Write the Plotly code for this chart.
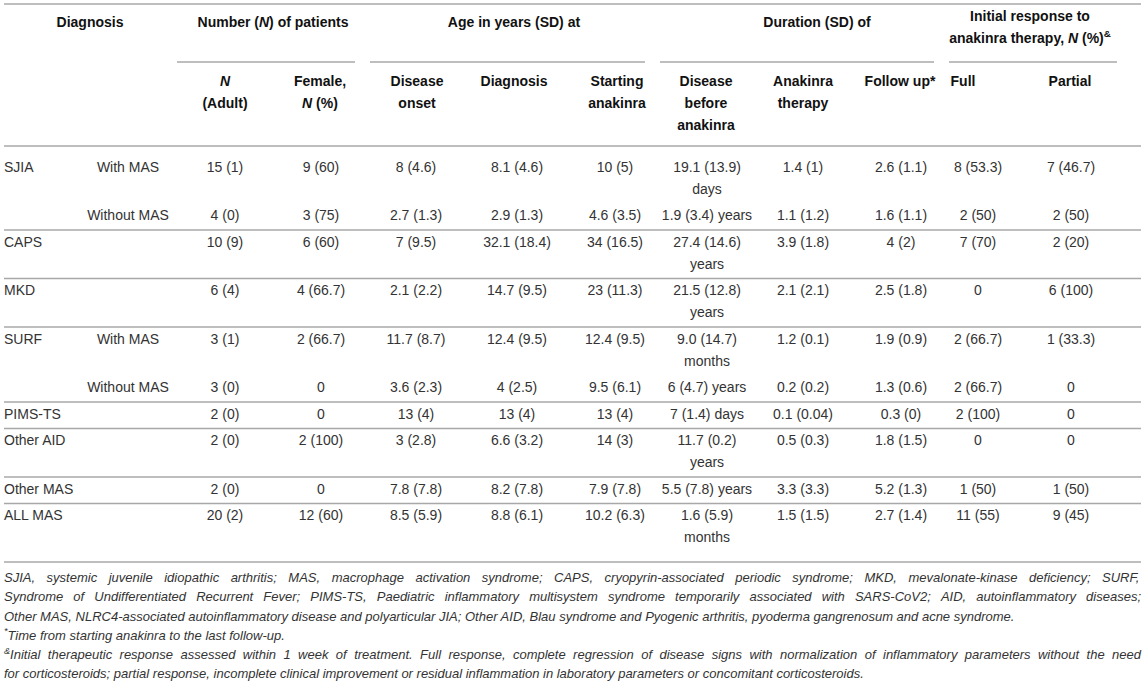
import re
import plotly.graph_objects as go

# ---- table contents ----
diagnosis = ["SJIA", "", "CAPS", "MKD", "SURF", "", "PIMS-TS", "Other AID", "Other MAS", "ALL MAS"]
subgroup = ["With MAS", "Without MAS", "", "", "With MAS", "Without MAS", "", "", "", ""]
n_adult = ["15 (1)", "4 (0)", "10 (9)", "6 (4)", "3 (1)", "3 (0)", "2 (0)", "2 (0)", "2 (0)", "20 (2)"]
female = ["9 (60)", "3 (75)", "6 (60)", "4 (66.7)", "2 (66.7)", "0", "0", "2 (100)", "0", "12 (60)"]
age_onset = ["8 (4.6)", "2.7 (1.3)", "7 (9.5)", "2.1 (2.2)", "11.7 (8.7)", "3.6 (2.3)", "13 (4)", "3 (2.8)", "7.8 (7.8)", "8.5 (5.9)"]
age_diagnosis = ["8.1 (4.6)", "2.9 (1.3)", "32.1 (18.4)", "14.7 (9.5)", "12.4 (9.5)", "4 (2.5)", "13 (4)", "6.6 (3.2)", "8.2 (7.8)", "8.8 (6.1)"]
age_anakinra = ["10 (5)", "4.6 (3.5)", "34 (16.5)", "23 (11.3)", "12.4 (9.5)", "9.5 (6.1)", "13 (4)", "14 (3)", "7.9 (7.8)", "10.2 (6.3)"]
dur_disease = ["19.1 (13.9)<br>days", "1.9 (3.4) years", "27.4 (14.6)<br>years", "21.5 (12.8)<br>years",
               "9.0 (14.7)<br>months", "6 (4.7) years", "7 (1.4) days", "11.7 (0.2)<br>years",
               "5.5 (7.8) years", "1.6 (5.9)<br>months"]
dur_anakinra = ["1.4 (1)", "1.1 (1.2)", "3.9 (1.8)", "2.1 (2.1)", "1.2 (0.1)", "0.2 (0.2)", "0.1 (0.04)", "0.5 (0.3)", "3.3 (3.3)", "1.5 (1.5)"]
dur_follow = ["2.6 (1.1)", "1.6 (1.1)", "4 (2)", "2.5 (1.8)", "1.9 (0.9)", "1.3 (0.6)", "0.3 (0)", "1.8 (1.5)", "5.2 (1.3)", "2.7 (1.4)"]
resp_full = ["8 (53.3)", "2 (50)", "7 (70)", "0", "2 (66.7)", "2 (66.7)", "2 (100)", "0", "1 (50)", "11 (55)"]
resp_partial = ["7 (46.7)", "2 (50)", "2 (20)", "6 (100)", "1 (33.3)", "0", "0", "0", "1 (50)", "9 (45)"]

group_titles = ["Number (<i>N</i>) of patients", "Age in years (SD) at", "Duration (SD) of",
                "Initial response to<br>anakinra therapy, <i>N</i> (%)<sup>&</sup>"]
sub_headers = ["<i>N</i><br>(Adult)", "Female,<br><i>N</i> (%)", "Disease<br>onset", "Diagnosis",
               "Starting<br>anakinra", "Disease<br>before<br>anakinra", "Anakinra<br>therapy",
               "Follow up*", "Full", "Partial"]

footnotes = [
    "SJIA, systemic juvenile idiopathic arthritis; MAS, macrophage activation syndrome; CAPS, cryopyrin-associated periodic syndrome; MKD, mevalonate-kinase deficiency; SURF,",
    "Syndrome of Undifferentiated Recurrent Fever; PIMS-TS, Paediatric inflammatory multisystem syndrome temporarily associated with SARS-CoV2; AID, autoinflammatory diseases;",
    "Other MAS, NLRC4-associated autoinflammatory disease and polyarticular JIA; Other AID, Blau syndrome and Pyogenic arthritis, pyoderma gangrenosum and acne syndrome.",
    "<sup>*</sup>Time from starting anakinra to the last follow-up.",
    "<sup>&</sup>Initial therapeutic response assessed within 1 week of treatment. Full response, complete regression of disease signs with normalization of inflammatory parameters without the need",
    "for corticosteroids; partial response, incomplete clinical improvement or residual inflammation in laboratory parameters or concomitant corticosteroids.",
]
justify = [True, True, False, False, True, False]

value_cols = [n_adult, female, age_onset, age_diagnosis, age_anakinra,
              dur_disease, dur_anakinra, dur_follow, resp_full, resp_partial]

# ---- layout constants (pixels) ----
W, H = 1145, 691
LEFT, RIGHT = 4, 1141
col_x = [225, 321, 416, 517, 615, 707, 803, 901, 978, 1071]
sub_x = [225, 320, 417, 514, 617, 706, 803, 900, 963, 1070]
group_x = [273, 514, 817, 1030]
group_spans = [(177, 355), (370, 645), (660, 934), (949, 1117)]
LH = 22          # line height
PAD = 2.25       # cell padding top/bottom
GAP = 9          # extra space after header rule and before bottom rule
FOOT_SIZE = 13
rule_color = "#a8a8a8"
body_color = "#333333"
head_color = "#111111"
FONT = "Liberation Sans, Arial, Helvetica, sans-serif"

# Arial / Liberation Sans advance widths (1/1000 em), used to justify footnotes
_w = {" ": 278, ",": 278, ".": 278, ";": 278, ":": 278, "-": 333, "(": 333, ")": 333,
      "*": 389, "&": 667, "%": 889}
_w.update({c: 556 for c in "0123456789"})
_w.update(dict(zip("ABCDEFGHIJKLMNOPQRSTUVWXYZ",
                   [667, 667, 722, 722, 667, 611, 778, 722, 278, 500, 667, 556, 833,
                    722, 778, 667, 778, 722, 667, 611, 722, 667, 944, 667, 667, 611])))
_w.update(dict(zip("abcdefghijklmnopqrstuvwxyz",
                   [556, 556, 500, 556, 556, 278, 556, 556, 222, 222, 500, 222, 833,
                    556, 556, 556, 556, 333, 500, 278, 556, 500, 722, 500, 500, 500])))


def text_width(s, size):
    sup = "".join(re.findall(r"<sup>(.*?)</sup>", s))
    plain = re.sub(r"<sup>.*?</sup>", "", s)
    units = sum(_w.get(c, 556) for c in plain) + 0.7 * sum(_w.get(c, 556) for c in sup)
    return units * size / 1000


cells = {"body_c": [], "body_l": [], "head_c": [], "foot_l": []}


def add(kind, x, y0, text):
    for k, line in enumerate(text.split("<br>")):
        cells[kind].append((x, y0 + k * LH, line))


# header
add("head_c", 90, 23, "Diagnosis")
for gx, t in zip(group_x, group_titles):
    add("head_c", gx, 17 if "<br>" in t else 23, t)
for sx, t in zip(sub_x, sub_headers):
    add("head_c", sx, 82, t)

shapes = []


def hline(y, x0=LEFT, x1=RIGHT):
    shapes.append(dict(type="line", xref="x", yref="y", x0=x0, x1=x1, y0=y, y1=y,
                       line=dict(color=rule_color, width=1.6)))


hline(4)
for a, b in group_spans:
    hline(62, a, b)
hline(146)

# body rows
y = 146 + GAP
for i in range(len(diagnosis)):
    if diagnosis[i] and i > 0:
        hline(y)
    row = [c[i] for c in value_cols]
    nlines = max(t.count("<br>") + 1 for t in row)
    ty = y + PAD + LH / 2
    if diagnosis[i]:
        add("body_l", LEFT, ty, diagnosis[i])
    if subgroup[i]:
        add("body_c", 128, ty, subgroup[i])
    for cx, t in zip(col_x, row):
        add("body_c", cx, ty, t)
    y += nlines * LH + 2 * PAD
hline(y + GAP + 1)

# footnotes (justified lines are laid out word by word)
for k, t in enumerate(footnotes):
    fy = 579 + k * 19.2
    if not justify[k]:
        cells["foot_l"].append((LEFT, fy, t))
        continue
    words = t.split(" ")
    widths = [text_width(wd, FOOT_SIZE) for wd in words]
    gap = (RIGHT - LEFT - sum(widths)) / (len(words) - 1)
    x = LEFT
    for wd, ww in zip(words, widths):
        cells["foot_l"].append((x, fy, wd))
        x += ww + gap

styles = {
    "body_c": dict(pos="middle center", color=body_color, size=14),
    "body_l": dict(pos="middle right", color=body_color, size=14),
    "head_c": dict(pos="middle center", color=head_color, size=14, weight="bold"),
    "foot_l": dict(pos="middle right", color=body_color, size=FOOT_SIZE, style="italic"),
}

fig = go.Figure()
for kind, items in cells.items():
    st = styles[kind]
    fig.add_trace(go.Scatter(
        x=[p[0] for p in items], y=[p[1] for p in items], text=[p[2] for p in items],
        mode="text", textposition=st["pos"], hoverinfo="skip", showlegend=False,
        textfont=dict(family=FONT, size=st["size"], color=st["color"],
                      weight=st.get("weight", "normal"), style=st.get("style", "normal")),
    ))

fig.update_layout(
    width=W, height=H, margin=dict(l=0, r=0, t=0, b=0),
    paper_bgcolor="white", plot_bgcolor="white", shapes=shapes,
    xaxis=dict(range=[0, W], visible=False, fixedrange=True),
    yaxis=dict(range=[H, 0], visible=False, fixedrange=True),
)

fig.write_html("out.html", config={"displayModeBar": False},
               post_script="document.body.style.margin='0px';")
